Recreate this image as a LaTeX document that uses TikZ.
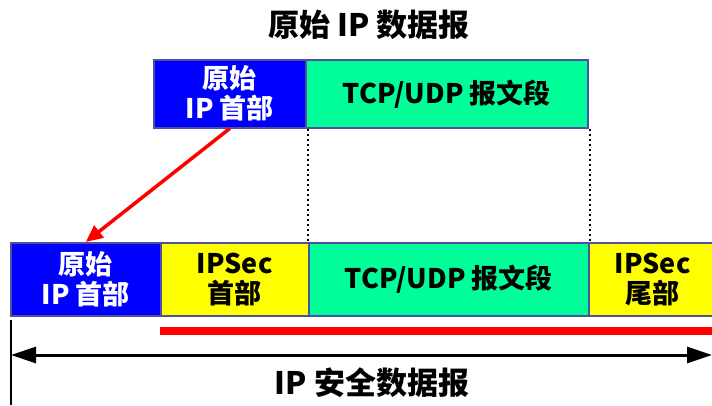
\documentclass[tikz,border=0pt]{standalone}
\usepackage{fontspec}
\setmainfont{Noto Sans CJK SC}
\usetikzlibrary{arrows.meta}

\definecolor{hdrblue}{RGB}{0,0,255}
\definecolor{segteal}{RGB}{0,255,153}
\definecolor{secyellow}{RGB}{255,255,0}
\definecolor{edgeblue}{RGB}{80,80,160}

\begin{document}
\begin{tikzpicture}[x=1pt,y=-1pt,
		field/.style={draw=edgeblue,line width=1.5pt,anchor=north west,inner sep=0pt,
			align=center,font=\fontsize{27}{30}\selectfont\bfseries},
		ipfield/.style={field,fill=hdrblue,text=white},
		datafield/.style={field,fill=segteal},
		secfield/.style={field,fill=secyellow},
		caption/.style={font=\fontsize{31}{34}\selectfont\bfseries},
		guide/.style={dash pattern=on 2pt off 3pt,line width=2pt}]

		\useasboundingbox (0,0) rectangle (712,405);

		\node[caption] (top) at (369,25) {原始 IP 数据报};

		% original datagram
		\node[ipfield,minimum width=152pt,minimum height=68pt] (oip) at (153,59) {原始\\IP 首部};
		\node[datafield,minimum width=282pt,minimum height=68pt] (oseg) at (305,59) {TCP/UDP 报文段};

		% secured datagram
		\node[ipfield,minimum width=150pt,minimum height=73pt] (nip) at (10,242) {原始\\IP 首部};
		\node[secfield,minimum width=148pt,minimum height=73pt] (sech) at (160,242) {IPSec\\首部};
		\node[datafield,minimum width=280pt,minimum height=73pt] (nseg) at (308,242) {TCP/UDP 报文段};
		\node[secfield,minimum width=128pt,minimum height=73pt] (sect) at (588,242) {IPSec\\尾部};

		\draw[guide] (nseg.north west |- oseg.south) -- (nseg.north west);
		\draw[guide] (nseg.north east |- oseg.south) -- (nseg.north east);

		\draw[red,line width=3.5pt,-{Triangle[length=17pt,width=15pt]}] (oip.south) -- (nip.north);

		\coordinate (redstart) at (160,331);
		\coordinate (redend) at (712,331);
		\draw[red,line width=8pt] (redstart) -- (redend);

		\coordinate (tick) at (11,320);
		\coordinate (tickend) at (11,405);
		\draw[line width=2pt] (tick) -- (tickend);

		\coordinate (left) at (11,355);
		\coordinate (right) at (712,355);
		\draw[line width=3pt,{Triangle[length=25pt,width=16pt]}-{Triangle[length=25pt,width=16pt]}] (left) -- (right);

		\node[caption] (bottom) at (372,383) {IP 安全数据报};

	\end{tikzpicture}
\end{document}
